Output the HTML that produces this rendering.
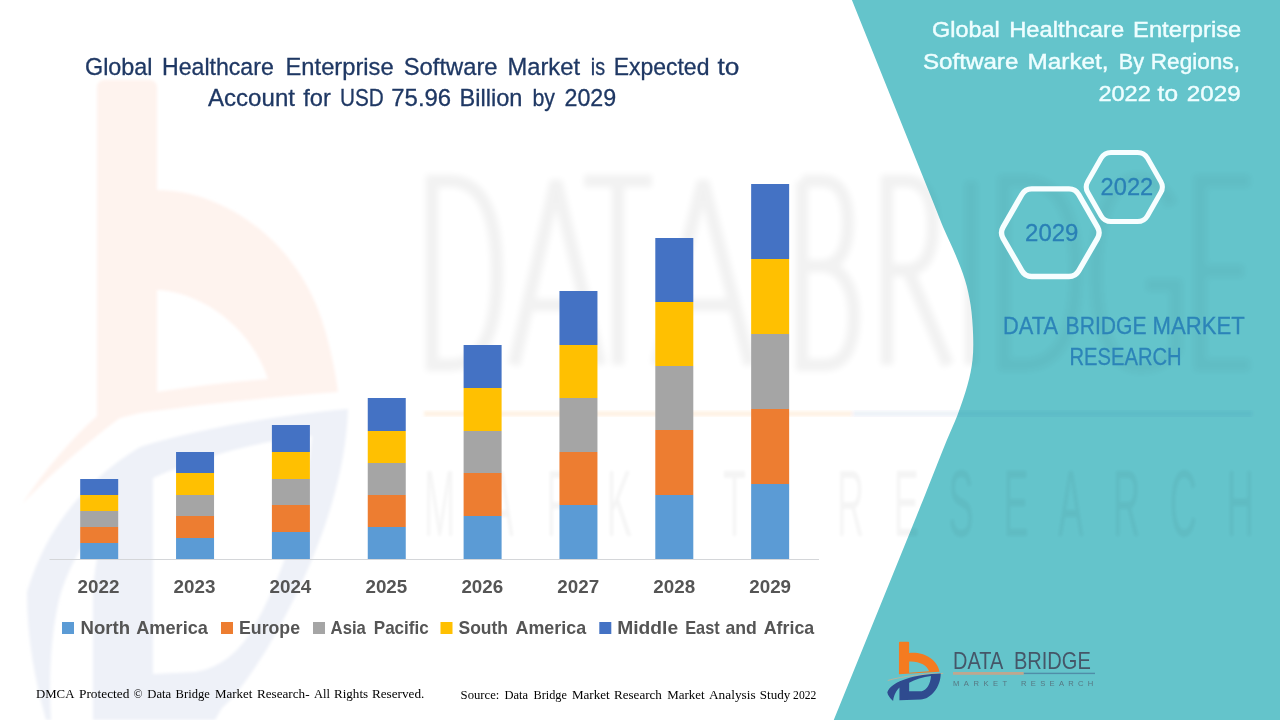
<!DOCTYPE html>
<html lang="en">
<head>
<meta charset="utf-8">
<title>Global Healthcare Enterprise Software Market</title>
<style>
html,body{margin:0;padding:0;background:#fff;}
body{width:1280px;height:720px;overflow:hidden;font-family:"Liberation Sans",sans-serif;}
svg{display:block;position:absolute;left:0;top:0;}
text{white-space:pre;}
svg{will-change:transform;opacity:0.999;}
</style>
</head>
<body>
<svg width="1280" height="720" viewBox="0 0 1280 720">
<rect width="1280" height="720" fill="#ffffff"/>

<path id="panel" fill="#64C4CB" d="M851.9,0 L934.3,205 C936.0,209.2 940.8,221.7 944.4,230 C948.0,238.3 952.2,246.7 955.6,255 C959.0,263.3 962.5,271.7 965,280 C967.5,288.3 969.2,295.8 970.6,305 C972.0,314.2 972.8,325.8 973.1,335 C973.4,344.2 973.4,351.7 972.5,360 C971.6,368.3 970.0,375.8 967.5,385 C965.0,394.2 960.9,405.8 957.5,415 C954.1,424.2 950.3,431.7 946.9,440 C943.5,448.3 940.2,456.7 936.9,465 C933.6,473.3 930.3,481.7 927.0,490 C923.7,498.3 918.7,510.8 917,515 L833.75,720 L1280,720 L1280,0 Z"/>
<defs>
<filter id="b2" x="-5%" y="-5%" width="110%" height="110%"><feGaussianBlur stdDeviation="3"/></filter>
<filter id="b1" x="-5%" y="-5%" width="110%" height="110%"><feGaussianBlur stdDeviation="1.5"/></filter>
</defs>
<g id="wmlogo" filter="url(#b1)">
<path fill="#FEF3EE" fill-rule="evenodd" d="M97,88 Q97,80 105,80 L149,80 Q157,80 157,88 L157,190 C 222,190 300,240 325,330 C 332,355 336,375 338,392 C 260,398 190,406 140,413 L 120,418 C 90,440 55,470 22,504 C 45,470 70,440 97,416 Z M157,290 C 200,292 250,325 268,379 C 230,382 190,387 157,392 Z"/>
<path fill="#EEF1F8" fill-rule="evenodd" d="M27,592 C 45,530 85,480 140,447 C 200,428 280,415 348,409 C 346,470 325,550 267,649 C 250,676 235,697 222,708 L 215,720 L 93,720 L 93,590 C 95,560 102,530 115,505 C 90,530 68,565 59,600 C 50,640 49,680 51,720 L 46,720 C 35,680 27,640 27,592 Z M153,478 C 200,458 260,440 312,436 C 306,500 288,565 255,625 C 240,652 220,668 195,672 L 153,674 Z"/>
</g>
<clipPath id="cpT"><path d="M851.9,0 L934.3,205 C936.0,209.2 940.8,221.7 944.4,230 C948.0,238.3 952.2,246.7 955.6,255 C959.0,263.3 962.5,271.7 965,280 C967.5,288.3 969.2,295.8 970.6,305 C972.0,314.2 972.8,325.8 973.1,335 C973.4,344.2 973.4,351.7 972.5,360 C971.6,368.3 970.0,375.8 967.5,385 C965.0,394.2 960.9,405.8 957.5,415 C954.1,424.2 950.3,431.7 946.9,440 C943.5,448.3 940.2,456.7 936.9,465 C933.6,473.3 930.3,481.7 927.0,490 C923.7,498.3 918.7,510.8 917,515 L833.75,720 L1280,720 L1280,0 Z"/></clipPath>
<clipPath id="cpW"><path d="M851.9,0 L934.3,205 C936.0,209.2 940.8,221.7 944.4,230 C948.0,238.3 952.2,246.7 955.6,255 C959.0,263.3 962.5,271.7 965,280 C967.5,288.3 969.2,295.8 970.6,305 C972.0,314.2 972.8,325.8 973.1,335 C973.4,344.2 973.4,351.7 972.5,360 C971.6,368.3 970.0,375.8 967.5,385 C965.0,394.2 960.9,405.8 957.5,415 C954.1,424.2 950.3,431.7 946.9,440 C943.5,448.3 940.2,456.7 936.9,465 C933.6,473.3 930.3,481.7 927.0,490 C923.7,498.3 918.7,510.8 917,515 L833.75,720 L0,720 L0,0 Z"/></clipPath>
<g clip-path="url(#cpW)"><g opacity="0.05" filter="url(#b2)" fill="none" stroke="#000" stroke-width="12.5">
<path d="M432,181 L432,365 L450,365 C 485,365 497,325 497,273 C 497,221 485,181 450,181 Z"/>
<path d="M514,365 L556,181 L600,365 M527,305 L587,305"/>
<path d="M584,181 L652,181 M618,181 L618,365"/>
<path d="M657,365 L703,181 L750,365 M671,305 L736,305"/>
<path d="M802,181 L802,365 L824,365 C 848,365 854,340 854,316 C 854,288 842,268 824,266 L802,266 M824,266 C 840,264 848,248 848,223 C 848,198 840,181 822,181 L802,181"/>
<path d="M887,365 L887,181 L906,181 C 926,181 933,200 933,226 C 933,254 924,270 906,270 L887,270 M908,270 L948,365"/>
<path d="M971,181 L971,365"/>
<path d="M1004,181 L1004,365 L1024,365 C 1062,365 1076,325 1076,273 C 1076,221 1062,181 1024,181 Z"/>
<path d="M1172,205 C 1164,188 1152,179 1138,179 C 1108,179 1096,225 1096,273 C 1096,321 1108,367 1140,367 C 1156,367 1168,360 1176,350 L1176,285 L1146,285"/>
<path d="M1250,181 L1200,181 L1200,365 L1250,365 M1200,271 L1244,271"/>
</g></g>
<g clip-path="url(#cpT)"><g opacity="0.03" filter="url(#b2)" fill="none" stroke="#000" stroke-width="12.5">
<path d="M432,181 L432,365 L450,365 C 485,365 497,325 497,273 C 497,221 485,181 450,181 Z"/>
<path d="M514,365 L556,181 L600,365 M527,305 L587,305"/>
<path d="M584,181 L652,181 M618,181 L618,365"/>
<path d="M657,365 L703,181 L750,365 M671,305 L736,305"/>
<path d="M802,181 L802,365 L824,365 C 848,365 854,340 854,316 C 854,288 842,268 824,266 L802,266 M824,266 C 840,264 848,248 848,223 C 848,198 840,181 822,181 L802,181"/>
<path d="M887,365 L887,181 L906,181 C 926,181 933,200 933,226 C 933,254 924,270 906,270 L887,270 M908,270 L948,365"/>
<path d="M971,181 L971,365"/>
<path d="M1004,181 L1004,365 L1024,365 C 1062,365 1076,325 1076,273 C 1076,221 1062,181 1024,181 Z"/>
<path d="M1172,205 C 1164,188 1152,179 1138,179 C 1108,179 1096,225 1096,273 C 1096,321 1108,367 1140,367 C 1156,367 1168,360 1176,350 L1176,285 L1146,285"/>
<path d="M1250,181 L1200,181 L1200,365 L1250,365 M1200,271 L1244,271"/>
</g></g>
<g id="wm2" filter="url(#b1)"><rect x="424" y="411" width="428" height="5.5" fill="#F47B20" opacity="0.10"/><rect x="852" y="411" width="400" height="5.5" fill="#2F4B8F" opacity="0.07"/></g>
<g id="wm3" opacity="0.04" filter="url(#b1)" font-family="Liberation Sans, sans-serif" font-size="94" fill="#000"><text transform="translate(424,536) scale(0.4,1)" textLength="805" lengthAdjust="spacing">MARKET</text><text transform="translate(837,536) scale(0.4,1)" textLength="1042" lengthAdjust="spacing">RESEARCH</text></g>
<rect x="49.5" y="559" width="769.5" height="1" fill="#D4D6D9"/>
<rect x="80.2" y="479" width="38" height="16" fill="#4472C4"/>
<rect x="80.2" y="495" width="38" height="16" fill="#FFC000"/>
<rect x="80.2" y="511" width="38" height="16" fill="#A5A5A5"/>
<rect x="80.2" y="527" width="38" height="16" fill="#ED7D31"/>
<rect x="80.2" y="543" width="38" height="16" fill="#5B9BD5"/>
<rect x="176.05" y="452" width="38" height="21" fill="#4472C4"/>
<rect x="176.05" y="473" width="38" height="22" fill="#FFC000"/>
<rect x="176.05" y="495" width="38" height="21" fill="#A5A5A5"/>
<rect x="176.05" y="516" width="38" height="22" fill="#ED7D31"/>
<rect x="176.05" y="538" width="38" height="21" fill="#5B9BD5"/>
<rect x="271.9" y="425" width="38" height="27" fill="#4472C4"/>
<rect x="271.9" y="452" width="38" height="27" fill="#FFC000"/>
<rect x="271.9" y="479" width="38" height="26" fill="#A5A5A5"/>
<rect x="271.9" y="505" width="38" height="27" fill="#ED7D31"/>
<rect x="271.9" y="532" width="38" height="27" fill="#5B9BD5"/>
<rect x="367.75" y="398" width="38" height="33" fill="#4472C4"/>
<rect x="367.75" y="431" width="38" height="32" fill="#FFC000"/>
<rect x="367.75" y="463" width="38" height="32" fill="#A5A5A5"/>
<rect x="367.75" y="495" width="38" height="32" fill="#ED7D31"/>
<rect x="367.75" y="527" width="38" height="32" fill="#5B9BD5"/>
<rect x="463.6" y="345" width="38" height="43" fill="#4472C4"/>
<rect x="463.6" y="388" width="38" height="43" fill="#FFC000"/>
<rect x="463.6" y="431" width="38" height="42" fill="#A5A5A5"/>
<rect x="463.6" y="473" width="38" height="43" fill="#ED7D31"/>
<rect x="463.6" y="516" width="38" height="43" fill="#5B9BD5"/>
<rect x="559.45" y="291" width="38" height="54" fill="#4472C4"/>
<rect x="559.45" y="345" width="38" height="53" fill="#FFC000"/>
<rect x="559.45" y="398" width="38" height="54" fill="#A5A5A5"/>
<rect x="559.45" y="452" width="38" height="53" fill="#ED7D31"/>
<rect x="559.45" y="505" width="38" height="54" fill="#5B9BD5"/>
<rect x="655.3" y="238" width="38" height="64" fill="#4472C4"/>
<rect x="655.3" y="302" width="38" height="64" fill="#FFC000"/>
<rect x="655.3" y="366" width="38" height="64" fill="#A5A5A5"/>
<rect x="655.3" y="430" width="38" height="65" fill="#ED7D31"/>
<rect x="655.3" y="495" width="38" height="64" fill="#5B9BD5"/>
<rect x="751.15" y="184" width="38" height="75" fill="#4472C4"/>
<rect x="751.15" y="259" width="38" height="75" fill="#FFC000"/>
<rect x="751.15" y="334" width="38" height="75" fill="#A5A5A5"/>
<rect x="751.15" y="409" width="38" height="75" fill="#ED7D31"/>
<rect x="751.15" y="484" width="38" height="75" fill="#5B9BD5"/>
<text x="85.00" y="74.7" textLength="67.52" lengthAdjust="spacingAndGlyphs" font-family="Liberation Sans, sans-serif" font-size="24.3" font-weight="normal" fill="#1F3864" stroke="#1F3864" stroke-width="0.3">Global</text>
<text x="162.00" y="74.7" textLength="111.78" lengthAdjust="spacingAndGlyphs" font-family="Liberation Sans, sans-serif" font-size="24.3" font-weight="normal" fill="#1F3864" stroke="#1F3864" stroke-width="0.3">Healthcare</text>
<text x="285.50" y="74.7" textLength="108.20" lengthAdjust="spacingAndGlyphs" font-family="Liberation Sans, sans-serif" font-size="24.3" font-weight="normal" fill="#1F3864" stroke="#1F3864" stroke-width="0.3">Enterprise</text>
<text x="403.75" y="74.7" textLength="93.78" lengthAdjust="spacingAndGlyphs" font-family="Liberation Sans, sans-serif" font-size="24.3" font-weight="normal" fill="#1F3864" stroke="#1F3864" stroke-width="0.3">Software</text>
<text x="507.50" y="74.7" textLength="72.53" lengthAdjust="spacingAndGlyphs" font-family="Liberation Sans, sans-serif" font-size="24.3" font-weight="normal" fill="#1F3864" stroke="#1F3864" stroke-width="0.3">Market</text>
<text x="590.75" y="74.7" textLength="14.29" lengthAdjust="spacingAndGlyphs" font-family="Liberation Sans, sans-serif" font-size="24.3" font-weight="normal" fill="#1F3864" stroke="#1F3864" stroke-width="0.3">is</text>
<text x="613.75" y="74.7" textLength="95.64" lengthAdjust="spacingAndGlyphs" font-family="Liberation Sans, sans-serif" font-size="24.3" font-weight="normal" fill="#1F3864" stroke="#1F3864" stroke-width="0.3">Expected</text>
<text x="717.50" y="74.7" textLength="21.87" lengthAdjust="spacingAndGlyphs" font-family="Liberation Sans, sans-serif" font-size="24.3" font-weight="normal" fill="#1F3864" stroke="#1F3864" stroke-width="0.3">to</text>
<text x="208.00" y="106.4" textLength="86.96" lengthAdjust="spacingAndGlyphs" font-family="Liberation Sans, sans-serif" font-size="24.3" font-weight="normal" fill="#1F3864" stroke="#1F3864" stroke-width="0.3">Account</text>
<text x="303.25" y="106.4" textLength="27.55" lengthAdjust="spacingAndGlyphs" font-family="Liberation Sans, sans-serif" font-size="24.3" font-weight="normal" fill="#1F3864" stroke="#1F3864" stroke-width="0.3">for</text>
<text x="340.00" y="106.4" textLength="43.78" lengthAdjust="spacingAndGlyphs" font-family="Liberation Sans, sans-serif" font-size="24.3" font-weight="normal" fill="#1F3864" stroke="#1F3864" stroke-width="0.3">USD</text>
<text x="391.25" y="106.4" textLength="59.94" lengthAdjust="spacingAndGlyphs" font-family="Liberation Sans, sans-serif" font-size="24.3" font-weight="normal" fill="#1F3864" stroke="#1F3864" stroke-width="0.3">75.96</text>
<text x="459.50" y="106.4" textLength="62.96" lengthAdjust="spacingAndGlyphs" font-family="Liberation Sans, sans-serif" font-size="24.3" font-weight="normal" fill="#1F3864" stroke="#1F3864" stroke-width="0.3">Billion</text>
<text x="532.50" y="106.4" textLength="22.52" lengthAdjust="spacingAndGlyphs" font-family="Liberation Sans, sans-serif" font-size="24.3" font-weight="normal" fill="#1F3864" stroke="#1F3864" stroke-width="0.3">by</text>
<text x="564.50" y="106.4" textLength="51.74" lengthAdjust="spacingAndGlyphs" font-family="Liberation Sans, sans-serif" font-size="24.3" font-weight="normal" fill="#1F3864" stroke="#1F3864" stroke-width="0.3">2029</text>
<text x="932.00" y="36.9" textLength="67.62" lengthAdjust="spacingAndGlyphs" font-family="Liberation Sans, sans-serif" font-size="22.8" font-weight="normal" fill="#EEFEFF" stroke="#EEFEFF" stroke-width="0.45">Global</text>
<text x="1009.20" y="36.9" textLength="115.03" lengthAdjust="spacingAndGlyphs" font-family="Liberation Sans, sans-serif" font-size="22.8" font-weight="normal" fill="#EEFEFF" stroke="#EEFEFF" stroke-width="0.45">Healthcare</text>
<text x="1133.10" y="36.9" textLength="108.15" lengthAdjust="spacingAndGlyphs" font-family="Liberation Sans, sans-serif" font-size="22.8" font-weight="normal" fill="#EEFEFF" stroke="#EEFEFF" stroke-width="0.45">Enterprise</text>
<text x="923.00" y="68.9" textLength="95.33" lengthAdjust="spacingAndGlyphs" font-family="Liberation Sans, sans-serif" font-size="22.8" font-weight="normal" fill="#EEFEFF" stroke="#EEFEFF" stroke-width="0.45">Software</text>
<text x="1027.50" y="68.9" textLength="81.08" lengthAdjust="spacingAndGlyphs" font-family="Liberation Sans, sans-serif" font-size="22.8" font-weight="normal" fill="#EEFEFF" stroke="#EEFEFF" stroke-width="0.45">Market,</text>
<text x="1118.80" y="68.9" textLength="25.24" lengthAdjust="spacingAndGlyphs" font-family="Liberation Sans, sans-serif" font-size="22.8" font-weight="normal" fill="#EEFEFF" stroke="#EEFEFF" stroke-width="0.45">By</text>
<text x="1150.80" y="68.9" textLength="89.14" lengthAdjust="spacingAndGlyphs" font-family="Liberation Sans, sans-serif" font-size="22.8" font-weight="normal" fill="#EEFEFF" stroke="#EEFEFF" stroke-width="0.45">Regions,</text>
<text x="1098.40" y="100.5" textLength="52.39" lengthAdjust="spacingAndGlyphs" font-family="Liberation Sans, sans-serif" font-size="22.8" font-weight="normal" fill="#EEFEFF" stroke="#EEFEFF" stroke-width="0.45">2022</text>
<text x="1157.60" y="100.5" textLength="20.38" lengthAdjust="spacingAndGlyphs" font-family="Liberation Sans, sans-serif" font-size="22.8" font-weight="normal" fill="#EEFEFF" stroke="#EEFEFF" stroke-width="0.45">to</text>
<text x="1186.80" y="100.5" textLength="53.79" lengthAdjust="spacingAndGlyphs" font-family="Liberation Sans, sans-serif" font-size="22.8" font-weight="normal" fill="#EEFEFF" stroke="#EEFEFF" stroke-width="0.45">2029</text>
<path d="M1097.5,227.1 Q1100.7,232.7 1097.5,238.3 L1078.7,270.9 Q1075.5,276.5 1069.0,276.5 L1031.6,276.5 Q1025.1,276.5 1021.9,270.9 L1003.1,238.3 Q999.9,232.7 1003.1,227.1 L1021.9,194.5 Q1025.1,188.9 1031.6,188.9 L1069.0,188.9 Q1075.5,188.9 1078.7,194.5 Z" fill="none" stroke="#F7FEFF" stroke-width="5.4" stroke-linejoin="round"/>
<path d="M1160.8,181.4 Q1164.0,187.0 1160.8,192.6 L1147.4,215.9 Q1144.1,221.5 1137.6,221.5 L1111.0,221.5 Q1104.5,221.5 1101.2,215.9 L1087.8,192.6 Q1084.6,187.0 1087.8,181.4 L1101.2,158.1 Q1104.5,152.5 1111.0,152.5 L1137.6,152.5 Q1144.1,152.5 1147.4,158.1 Z" fill="none" stroke="#F7FEFF" stroke-width="5" stroke-linejoin="round"/>
<text x="1025.10" y="240.5" textLength="53.29" lengthAdjust="spacingAndGlyphs" font-family="Liberation Sans, sans-serif" font-size="23.7" font-weight="normal" fill="#2A80B6" stroke="#2A80B6" stroke-width="0.3">2029</text>
<text x="1100.60" y="194.8" textLength="52.59" lengthAdjust="spacingAndGlyphs" font-family="Liberation Sans, sans-serif" font-size="23.7" font-weight="normal" fill="#2A80B6" stroke="#2A80B6" stroke-width="0.3">2022</text>
<text x="1003.00" y="333.6" textLength="54.97" lengthAdjust="spacingAndGlyphs" font-family="Liberation Sans, sans-serif" font-size="24.1" font-weight="normal" fill="#2C84B8" stroke="#2C84B8" stroke-width="0.3">DATA</text>
<text x="1065.60" y="333.6" textLength="80.88" lengthAdjust="spacingAndGlyphs" font-family="Liberation Sans, sans-serif" font-size="24.1" font-weight="normal" fill="#2C84B8" stroke="#2C84B8" stroke-width="0.3">BRIDGE</text>
<text x="1152.60" y="333.6" textLength="92.05" lengthAdjust="spacingAndGlyphs" font-family="Liberation Sans, sans-serif" font-size="24.1" font-weight="normal" fill="#2C84B8" stroke="#2C84B8" stroke-width="0.3">MARKET</text>
<text x="1069.50" y="365.3" textLength="112.14" lengthAdjust="spacingAndGlyphs" font-family="Liberation Sans, sans-serif" font-size="24.1" font-weight="normal" fill="#2C84B8" stroke="#2C84B8" stroke-width="0.3">RESEARCH</text>
<text x="77.60" y="592.8" textLength="41.79" lengthAdjust="spacingAndGlyphs" font-family="Liberation Sans, sans-serif" font-size="18.4" font-weight="bold" fill="#555555" >2022</text>
<text x="173.55" y="592.8" textLength="41.79" lengthAdjust="spacingAndGlyphs" font-family="Liberation Sans, sans-serif" font-size="18.4" font-weight="bold" fill="#555555" >2023</text>
<text x="269.50" y="592.8" textLength="41.79" lengthAdjust="spacingAndGlyphs" font-family="Liberation Sans, sans-serif" font-size="18.4" font-weight="bold" fill="#555555" >2024</text>
<text x="365.45" y="592.8" textLength="41.79" lengthAdjust="spacingAndGlyphs" font-family="Liberation Sans, sans-serif" font-size="18.4" font-weight="bold" fill="#555555" >2025</text>
<text x="461.40" y="592.8" textLength="41.79" lengthAdjust="spacingAndGlyphs" font-family="Liberation Sans, sans-serif" font-size="18.4" font-weight="bold" fill="#555555" >2026</text>
<text x="557.35" y="592.8" textLength="41.79" lengthAdjust="spacingAndGlyphs" font-family="Liberation Sans, sans-serif" font-size="18.4" font-weight="bold" fill="#555555" >2027</text>
<text x="653.30" y="592.8" textLength="41.79" lengthAdjust="spacingAndGlyphs" font-family="Liberation Sans, sans-serif" font-size="18.4" font-weight="bold" fill="#555555" >2028</text>
<text x="749.25" y="592.8" textLength="41.79" lengthAdjust="spacingAndGlyphs" font-family="Liberation Sans, sans-serif" font-size="18.4" font-weight="bold" fill="#555555" >2029</text>
<rect x="62" y="622" width="12" height="12" fill="#5B9BD5"/>
<text x="80.50" y="633.9" textLength="49.52" lengthAdjust="spacingAndGlyphs" font-family="Liberation Sans, sans-serif" font-size="18.2" font-weight="bold" fill="#555555" >North</text>
<text x="136.25" y="633.9" textLength="71.70" lengthAdjust="spacingAndGlyphs" font-family="Liberation Sans, sans-serif" font-size="18.2" font-weight="bold" fill="#555555" >America</text>
<rect x="221" y="622" width="12" height="12" fill="#ED7D31"/>
<text x="239.00" y="633.9" textLength="61.00" lengthAdjust="spacingAndGlyphs" font-family="Liberation Sans, sans-serif" font-size="18.2" font-weight="bold" fill="#555555" >Europe</text>
<rect x="313" y="622" width="12" height="12" fill="#A5A5A5"/>
<text x="330.60" y="633.9" textLength="35.27" lengthAdjust="spacingAndGlyphs" font-family="Liberation Sans, sans-serif" font-size="18.2" font-weight="bold" fill="#555555" >Asia</text>
<text x="373.75" y="633.9" textLength="54.99" lengthAdjust="spacingAndGlyphs" font-family="Liberation Sans, sans-serif" font-size="18.2" font-weight="bold" fill="#555555" >Pacific</text>
<rect x="440.5" y="622" width="12" height="12" fill="#FFC000"/>
<text x="458.50" y="633.9" textLength="49.56" lengthAdjust="spacingAndGlyphs" font-family="Liberation Sans, sans-serif" font-size="18.2" font-weight="bold" fill="#555555" >South</text>
<text x="515.60" y="633.9" textLength="70.50" lengthAdjust="spacingAndGlyphs" font-family="Liberation Sans, sans-serif" font-size="18.2" font-weight="bold" fill="#555555" >America</text>
<rect x="599.3" y="622" width="12" height="12" fill="#4472C4"/>
<text x="617.25" y="633.9" textLength="60.88" lengthAdjust="spacingAndGlyphs" font-family="Liberation Sans, sans-serif" font-size="18.2" font-weight="bold" fill="#555555" >Middle</text>
<text x="685.25" y="633.9" textLength="34.39" lengthAdjust="spacingAndGlyphs" font-family="Liberation Sans, sans-serif" font-size="18.2" font-weight="bold" fill="#555555" >East</text>
<text x="725.50" y="633.9" textLength="31.36" lengthAdjust="spacingAndGlyphs" font-family="Liberation Sans, sans-serif" font-size="18.2" font-weight="bold" fill="#555555" >and</text>
<text x="763.75" y="633.9" textLength="50.46" lengthAdjust="spacingAndGlyphs" font-family="Liberation Sans, sans-serif" font-size="18.2" font-weight="bold" fill="#555555" >Africa</text>
<text x="36.00" y="697.6" textLength="38.41" lengthAdjust="spacingAndGlyphs" font-family="Liberation Serif, sans-serif" font-size="13.2" font-weight="normal" fill="#000" >DMCA</text>
<text x="79.00" y="697.6" textLength="50.42" lengthAdjust="spacingAndGlyphs" font-family="Liberation Serif, sans-serif" font-size="13.2" font-weight="normal" fill="#000" >Protected</text>
<text x="133.50" y="697.6" textLength="9.00" lengthAdjust="spacingAndGlyphs" font-family="Liberation Serif, sans-serif" font-size="13.2" font-weight="normal" fill="#000" >©</text>
<text x="147.25" y="697.6" textLength="23.97" lengthAdjust="spacingAndGlyphs" font-family="Liberation Serif, sans-serif" font-size="13.2" font-weight="normal" fill="#000" >Data</text>
<text x="175.60" y="697.6" textLength="34.17" lengthAdjust="spacingAndGlyphs" font-family="Liberation Serif, sans-serif" font-size="13.2" font-weight="normal" fill="#000" >Bridge</text>
<text x="215.00" y="697.6" textLength="37.47" lengthAdjust="spacingAndGlyphs" font-family="Liberation Serif, sans-serif" font-size="13.2" font-weight="normal" fill="#000" >Market</text>
<text x="256.90" y="697.6" textLength="52.67" lengthAdjust="spacingAndGlyphs" font-family="Liberation Serif, sans-serif" font-size="13.2" font-weight="normal" fill="#000" >Research-</text>
<text x="314.00" y="697.6" textLength="15.97" lengthAdjust="spacingAndGlyphs" font-family="Liberation Serif, sans-serif" font-size="13.2" font-weight="normal" fill="#000" >All</text>
<text x="334.00" y="697.6" textLength="34.12" lengthAdjust="spacingAndGlyphs" font-family="Liberation Serif, sans-serif" font-size="13.2" font-weight="normal" fill="#000" >Rights</text>
<text x="371.90" y="697.6" textLength="52.51" lengthAdjust="spacingAndGlyphs" font-family="Liberation Serif, sans-serif" font-size="13.2" font-weight="normal" fill="#000" >Reserved.</text>
<text x="460.60" y="698.5" textLength="38.80" lengthAdjust="spacingAndGlyphs" font-family="Liberation Serif, sans-serif" font-size="13.2" font-weight="normal" fill="#000" >Source:</text>
<text x="504.40" y="698.5" textLength="23.67" lengthAdjust="spacingAndGlyphs" font-family="Liberation Serif, sans-serif" font-size="13.2" font-weight="normal" fill="#000" >Data</text>
<text x="533.50" y="698.5" textLength="33.42" lengthAdjust="spacingAndGlyphs" font-family="Liberation Serif, sans-serif" font-size="13.2" font-weight="normal" fill="#000" >Bridge</text>
<text x="571.90" y="698.5" textLength="37.77" lengthAdjust="spacingAndGlyphs" font-family="Liberation Serif, sans-serif" font-size="13.2" font-weight="normal" fill="#000" >Market</text>
<text x="614.00" y="698.5" textLength="47.89" lengthAdjust="spacingAndGlyphs" font-family="Liberation Serif, sans-serif" font-size="13.2" font-weight="normal" fill="#000" >Research</text>
<text x="667.25" y="698.5" textLength="37.47" lengthAdjust="spacingAndGlyphs" font-family="Liberation Serif, sans-serif" font-size="13.2" font-weight="normal" fill="#000" >Market</text>
<text x="709.00" y="698.5" textLength="46.60" lengthAdjust="spacingAndGlyphs" font-family="Liberation Serif, sans-serif" font-size="13.2" font-weight="normal" fill="#000" >Analysis</text>
<text x="759.75" y="698.5" textLength="30.49" lengthAdjust="spacingAndGlyphs" font-family="Liberation Serif, sans-serif" font-size="13.2" font-weight="normal" fill="#000" >Study</text>
<text x="793.10" y="698.5" textLength="23.15" lengthAdjust="spacingAndGlyphs" font-family="Liberation Serif, sans-serif" font-size="13.2" font-weight="normal" fill="#000" >2022</text>
<g id="logo" transform="translate(880,635) scale(0.09718)">
<path fill="#F47B20" fill-rule="evenodd" d="M195,80 Q195,70 205,70 L290,70 Q300,70 300,80 L300,185 C 450,170 590,250 612,378 L 195,405 Z M300,272 L300,388 L505,374 C 490,312 400,266 300,272 Z"/>
<path fill="none" stroke="#F2A878" stroke-width="6" d="M80,468 C 250,420 450,400 650,395"/>
<path fill="#2F4B8F" fill-rule="evenodd" d="M75,590 C 120,470 380,402 625,397 C 625,540 520,660 420,665 L 200,672 L 200,540 C 170,570 140,620 135,680 C 100,650 80,620 75,590 Z M300,492 L300,580 L430,578 C 480,570 520,500 525,422 C 440,432 360,457 300,492 Z"/>
</g>
<text x="953.10" y="669.4" textLength="50.17" lengthAdjust="spacingAndGlyphs" font-family="Liberation Sans, sans-serif" font-size="24.6" font-weight="normal" fill="#455668" >DATA</text>
<text x="1013.90" y="669.4" textLength="76.88" lengthAdjust="spacingAndGlyphs" font-family="Liberation Sans, sans-serif" font-size="24.6" font-weight="normal" fill="#455668" >BRIDGE</text>
<rect x="953" y="672" width="70.8" height="2.8" fill="#BFA78F"/>
<rect x="1023.8" y="672.7" width="71.2" height="1.4" fill="#4F8DA8"/>
<text x="953" y="686" textLength="54.2" lengthAdjust="spacing" font-family="Liberation Sans, sans-serif" font-size="7.6" fill="#567782">MARKET</text>
<text x="1021" y="686" textLength="72.3" lengthAdjust="spacing" font-family="Liberation Sans, sans-serif" font-size="7.6" fill="#567782">RESEARCH</text>
</svg>
</body>
</html>
